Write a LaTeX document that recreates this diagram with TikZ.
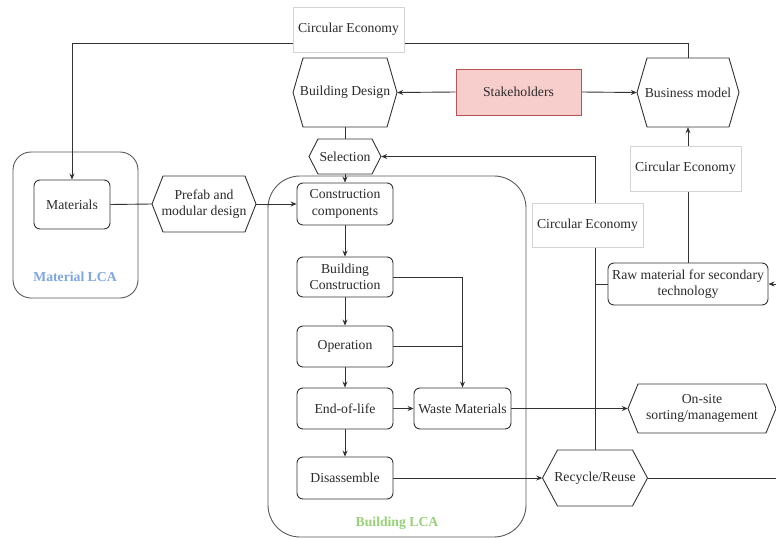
\documentclass[tikz,border=0pt]{standalone}
\usepackage{fontspec}
\setmainfont{Liberation Serif}
\usetikzlibrary{arrows.meta,calc}
\pgfdeclarelayer{bg}
\pgfsetlayers{bg,main}
\definecolor{pinkf}{HTML}{F8CECC}
\definecolor{pinkd}{HTML}{B85450}
\definecolor{lcablue}{HTML}{7EA6E0}
\definecolor{lcagreen}{HTML}{97D077}
\definecolor{txt}{HTML}{2B2B2B}
\definecolor{edgec}{HTML}{333333}
\definecolor{lightc}{HTML}{D4D4D4}
\tikzset{
  base/.style={font=\fontsize{13.7}{16.4}\selectfont, text=txt, align=center, inner sep=2pt},
  box/.style={base, draw=edgec, rounded corners=6pt, fill=white, line width=0.9pt},
  cebox/.style={base, draw=lightc, fill=white, line width=0.6pt, minimum width=111pt, minimum height=45pt},
  hexbox/.style={base},
  hexline/.style={draw=edgec, fill=white, line width=0.9pt},
  container/.style={draw=black!65, line width=0.9pt},
  conn/.style={draw=edgec, line width=0.9pt},
  arr/.style={conn, -{Stealth[length=6pt,width=5pt]}},
  lcalabel/.style={font=\fontsize{13.7}{16.4}\selectfont\bfseries, inner sep=1pt},
}
\newcommand{\hexnode}[7]{%
  \draw[hexline] ({#2-#4/2},#3) -- ({#2-#4/2+#6},{#3-#5/2}) -- ({#2+#4/2-#6},{#3-#5/2}) -- ({#2+#4/2},#3) -- ({#2+#4/2-#6},{#3+#5/2}) -- ({#2-#4/2+#6},{#3+#5/2}) -- cycle;
  \node[hexbox, minimum width=#4pt, minimum height=#5pt] (#1) at (#2,#3) {#7};
}
\begin{document}
\begin{tikzpicture}[x=1pt, y=-1pt]
\useasboundingbox (0,0) rectangle (776,538);

% containers
\begin{pgfonlayer}{bg}
\draw[container, rounded corners=18pt] (13,152) rectangle (138,298);
\draw[container, rounded corners=32pt] (268,176) rectangle (526,537);
\end{pgfonlayer}
\node[lcalabel, text=lcablue] (matlbl) at (75,277) {Material LCA};
\node[lcalabel, text=lcagreen] (bldlbl) at (397,523) {Building LCA};

% nodes
\node[cebox] (ceTop) at (348.5,29.5) {Circular Economy};
\hexnode{bd}{345}{92.5}{104}{69}{10}{Building Design}
\node[box, rounded corners=0pt, fill=pinkf, draw=pinkd, minimum width=125pt, minimum height=46pt] (stake) at (518.5,92) {Stakeholders};
\hexnode{bm}{688}{92.5}{102}{69}{10}{Business model}
\node[cebox] (ceRight) at (685.5,168.5) {Circular Economy};
\hexnode{sel}{345}{156.5}{72}{35}{9}{Selection}
\node[cebox, minimum height=44pt] (ceMid) at (587.5,225) {Circular Economy};
\node[box, minimum width=160pt, minimum height=42pt, inner sep=1pt] (raw) at (688,284) {Raw material for secondary\\technology};
\node[box, minimum width=76pt, minimum height=49pt] (mat) at (72,204.5) {Materials};
\hexnode{pf}{204}{204}{104}{56}{11}{Prefab and\\modular design}
\node[box, minimum width=96pt, minimum height=42pt] (cc) at (345,204) {Construction\\components};
\node[box, minimum width=96pt, minimum height=40pt] (bc) at (345,277) {Building\\Construction};
\node[box, minimum width=96pt, minimum height=41pt] (op) at (345,346.5) {Operation};
\node[box, minimum width=96pt, minimum height=41pt] (eol) at (345,408.5) {End-of-life};
\node[box, minimum width=97pt, minimum height=41pt] (waste) at (462.5,408.5) {Waste Materials};
\node[box, minimum width=96pt, minimum height=42pt] (dis) at (345,478) {Disassemble};
\hexnode{os}{702}{408.5}{148}{49}{10}{On-site\\sorting/management}
\hexnode{rr}{595}{478}{105}{56}{15}{Recycle/Reuse}

\coordinate (topY) at (0,43);
\coordinate (edgeA) at (776,284);
\coordinate (edgeB) at (776,478);

% connectors
\begin{pgfonlayer}{bg}
\draw[arr] (bm.north) -- (bm.north |- topY) -| (mat.north);
\draw[arr] (stake.west) -- (bd.east);
\draw[arr] (stake.east) -- (bm.west);
\draw[arr] (raw.north) -- (bm.south);
\draw[conn] (bd.south) -- (sel.north);
\draw[arr] (sel.south) -- (cc.north);
\draw[arr] (rr.north) -- (rr.north |- sel.east) -- (sel.east);
\draw[conn] (rr.north |- raw.west) -- (raw.west);
\draw[conn] (mat.east) -- (pf.west);
\draw[arr] (pf.east) -- (cc.west);
\draw[arr] (cc.south) -- (bc.north);
\draw[arr] (bc.south) -- (op.north);
\draw[arr] (op.south) -- (eol.north);
\draw[arr] (eol.south) -- (dis.north);
\draw[arr] (eol.east) -- (waste.west);
\draw[arr] (bc.east) -| (waste.north);
\draw[conn] (op.east) -- (op.east -| waste.north);
\draw[arr] (waste.east) -- (os.west);
\draw[arr] (dis.east) -- (rr.west);
\draw[arr] (edgeA) -- (raw.east);
\draw[conn] (rr.east) -- (edgeB);
\end{pgfonlayer}
\end{tikzpicture}
\end{document}
